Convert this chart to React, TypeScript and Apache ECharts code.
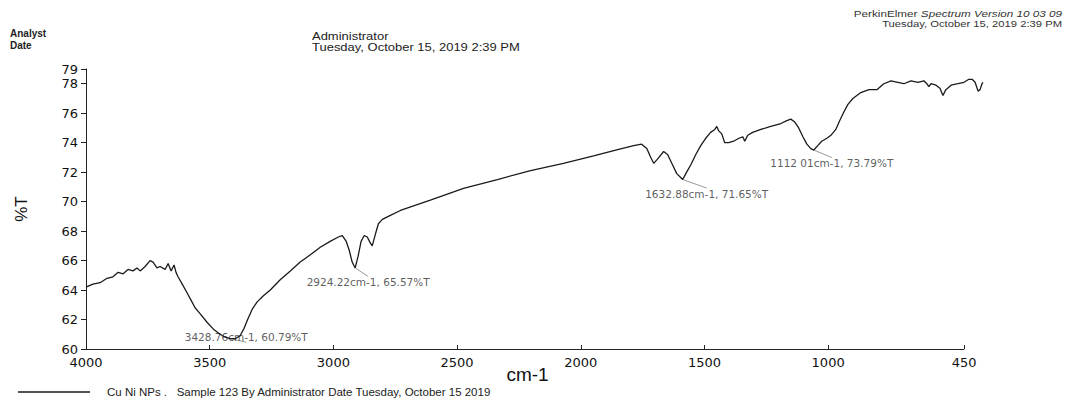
import React, { useEffect, useRef } from "react";
import * as echarts from "echarts";

// ---- Data ----
const wavenumbers = [
  4000, 3972, 3943, 3915, 3891, 3870, 3850, 3830, 3810, 3794, 3781, 3761, 3741, 3729, 3713, 3701,
  3680, 3668, 3656, 3644, 3636, 3628, 3611, 3591, 3575, 3559, 3539, 3510, 3482, 3458, 3437, 3417,
  3397, 3377, 3361, 3344, 3328, 3308, 3284, 3255, 3215, 3174, 3134, 3093, 3053, 3013, 2980, 2964,
  2948, 2936, 2924, 2912, 2900, 2888, 2875, 2863, 2851, 2843, 2830, 2818, 2802, 2778, 2729, 2608,
  2474, 2337, 2203, 2070, 1948, 1859, 1786, 1754, 1733, 1717, 1705, 1689, 1665, 1649, 1632, 1612,
  1588, 1572, 1555, 1535, 1515, 1495, 1475, 1458, 1450, 1442, 1430, 1418, 1402, 1382, 1361, 1345,
  1337, 1325, 1305, 1272, 1232, 1191, 1167, 1151, 1135, 1119, 1102, 1086, 1070, 1058, 1042, 1026,
  1005, 989, 969, 953, 936, 920, 900, 868, 835, 803, 775, 746, 718, 694, 665, 637,
  613, 601, 593, 584, 564, 548, 536, 524, 503, 475, 451, 431, 418, 406, 394, 386,
  378, 374,
];
const transmittance = [
  64.2, 64.4, 64.5, 64.8, 64.9, 65.2, 65.1, 65.4, 65.3, 65.5, 65.3, 65.6, 66.0, 65.9, 65.5, 65.6,
  65.4, 65.8, 65.3, 65.7, 65.2, 64.9, 64.4, 63.8, 63.3, 62.8, 62.4, 61.8, 61.3, 61.0, 60.8, 60.7,
  60.7, 60.9, 61.4, 62.1, 62.7, 63.2, 63.6, 64.0, 64.7, 65.3, 65.9, 66.4, 66.9, 67.3, 67.6, 67.7,
  67.3, 66.7, 65.9, 65.5, 66.3, 67.3, 67.7, 67.6, 67.2, 67.0, 67.8, 68.5, 68.8, 69.0, 69.4, 70.1,
  70.9, 71.5, 72.1, 72.6, 73.1, 73.5, 73.8, 73.9, 73.6, 73.0, 72.6, 72.9, 73.4, 73.2, 72.6, 71.9,
  71.5, 72.0, 72.5, 73.2, 73.8, 74.3, 74.7, 74.9, 75.1, 74.8, 74.6, 74.0, 74.0, 74.1, 74.3, 74.4,
  74.1, 74.5, 74.7, 74.9, 75.1, 75.3, 75.5, 75.6, 75.4, 75.0, 74.4, 73.9, 73.6, 73.5, 73.8, 74.1,
  74.3, 74.5, 74.9, 75.5, 76.1, 76.6, 77.0, 77.4, 77.6, 77.6, 78.0, 78.2, 78.1, 78.0, 78.2, 78.1,
  78.2, 78.0, 77.8, 78.0, 77.9, 77.7, 77.2, 77.6, 77.9, 78.0, 78.1, 78.3, 78.3, 78.1, 77.5, 77.6,
  78.0, 78.1,
];

const xTickLabels = [4000, 3500, 3000, 2500, 2000, 1500, 1000, 450];
const yTickLabels = [60, 62, 64, 66, 68, 70, 72, 74, 76, 78, 79];
const xAxisLineEnds = [4000, 450];

// peak annotations
const peakWavenumbers = [3417, 2912, 1588, 1058];
const peakValues = [60.7, 65.5, 71.5, 73.5];
const peakTexts = [
  "3428.76cm-1, 60.79%T",
  "2924.22cm-1, 65.57%T",
  "1632.88cm-1, 71.65%T",
  "1112 01cm-1, 73.79%T",
];
const peakLabelShift = [
  [16, -2],
  [13, 14],
  [24, 14],
  [18, 13],
];

const seriesName = "Cu Ni NPs .   Sample 123 By Administrator Date Tuesday, October 15 2019";

const SANS = "Liberation Sans, Arial, sans-serif";
const WIDE = "DejaVu Sans, Arial, sans-serif";

export default function App() {
  const ref = useRef<HTMLDivElement>(null);

  useEffect(() => {
    document.body.style.margin = "0";
    if (!ref.current) return;
    const chart = echarts.init(ref.current, null, { renderer: "svg" });

    const lineData = wavenumbers.map((w, i) => [w, transmittance[i]]);
    const peakData = peakWavenumbers.map((w, i) => ({
      value: [w, peakValues[i]],
      label: { formatter: peakTexts[i] },
    }));

    const option: any = {
      animation: false,
      backgroundColor: "#ffffff",
      textStyle: { fontFamily: WIDE },
      grid: { left: 86, right: 89, top: 69, bottom: 51, containLabel: false, outerBoundsMode: "none" },
      legend: {
        left: 18,
        top: 386,
        padding: 0,
        data: [{ name: seriesName, icon: "rect" }],
        itemWidth: 72,
        itemHeight: 1.5,
        selectedMode: false,
        textStyle: {
          fontFamily: SANS,
          fontSize: 11.5,
          color: "#222",
          padding: [0, 0, 0, 12],
        },
      },
      xAxis: {
        type: "value",
        min: 374,
        max: 4000,
        inverse: true,
        name: "cm-1",
        nameLocation: "middle",
        nameGap: 16,
        nameMoveOverlap: false,
        nameTextStyle: {
          fontFamily: SANS,
          fontSize: 19,
          color: "#111",
          padding: [0, 14, 0, 0],
        },
        splitLine: { show: false },
        axisLine: { show: false },
        axisTick: {
          show: true,
          inside: true,
          length: 4,
          customValues: xTickLabels,
          lineStyle: { color: "#222" },
        },
        axisLabel: {
          customValues: xTickLabels,
          formatter: (v: number) => String(v),
          margin: 7,
          fontSize: 13,
          color: "#111",
          fontFamily: WIDE,
        },
      },
      yAxis: {
        type: "value",
        min: 60,
        max: 79,
        name: "%T",
        nameLocation: "middle",
        nameGap: 56,
        nameTextStyle: {
          fontFamily: SANS,
          fontSize: 17,
          color: "#111",
        },
        splitLine: { show: false },
        axisLine: { show: true, lineStyle: { color: "#222", width: 1 } },
        axisTick: {
          show: true,
          length: 5,
          customValues: yTickLabels,
          lineStyle: { color: "#222" },
        },
        axisLabel: {
          customValues: yTickLabels,
          margin: 8,
          fontSize: 13,
          color: "#111",
          fontFamily: WIDE,
        },
      },
      series: [
        {
          name: seriesName,
          type: "line",
          data: lineData,
          symbol: "none",
          lineStyle: { color: "#1a1a1a", width: 1.3 },
          itemStyle: { color: "#1a1a1a" },
          markLine: {
            silent: true,
            symbol: ["none", "none"],
            label: { show: false },
            lineStyle: { color: "#222", width: 1, type: "solid" },
            data: [[{ coord: [xAxisLineEnds[0], 60] }, { coord: [xAxisLineEnds[1], 60] }]],
          },
        },
        {
          name: "peaks",
          type: "scatter",
          data: peakData,
          symbolSize: 1,
          itemStyle: { color: "rgba(0,0,0,0)" },
          label: {
            show: true,
            position: "inside",
            fontSize: 10.5,
            color: "#333",
            fontFamily: WIDE,
          },
          labelLayout: (p: any) => ({
            dx: peakLabelShift[p.dataIndex][0],
            dy: peakLabelShift[p.dataIndex][1],
          }),
          labelLine: { show: true, lineStyle: { color: "#999", width: 1 } },
          silent: true,
        },
      ],
      graphic: [
        {
          type: "text",
          x: 10,
          y: 33,
          style: { text: "Analyst", font: "bold 10px " + SANS, fill: "#222", textVerticalAlign: "middle" },
        },
        {
          type: "text",
          x: 10,
          y: 45,
          style: { text: "Date", font: "bold 10px " + SANS, fill: "#222", textVerticalAlign: "middle" },
        },
        {
          type: "text",
          x: 312,
          y: 37,
          scaleX: 1.3,
          style: { text: "Administrator", font: "10px " + SANS, fill: "#222", textVerticalAlign: "middle" },
        },
        {
          type: "text",
          x: 312,
          y: 48,
          scaleX: 1.3,
          style: {
            text: "Tuesday, October 15, 2019 2:39 PM",
            font: "10px " + SANS,
            fill: "#222",
            textVerticalAlign: "middle",
          },
        },
        {
          type: "text",
          x: 1062,
          y: 14,
          scaleX: 1.3,
          style: {
            text: "PerkinElmer {i|Spectrum Version 10 03 09}",
            font: "9px " + SANS,
            fill: "#333",
            textAlign: "right",
            textVerticalAlign: "middle",
            rich: { i: { fontStyle: "italic", fontSize: 9, fill: "#333", fontFamily: SANS } },
          },
        },
        {
          type: "text",
          x: 1062,
          y: 24,
          scaleX: 1.25,
          style: {
            text: "Tuesday, October 15, 2019 2:39 PM",
            font: "9px " + SANS,
            fill: "#333",
            textAlign: "right",
            textVerticalAlign: "middle",
          },
        },
      ],
    };

    chart.setOption(option);
    return () => chart.dispose();
  }, []);

  return (
    <div
      ref={ref}
      style={{ position: "absolute", left: 0, top: 0, width: 1072, height: 400, background: "#fff" }}
    />
  );
}
